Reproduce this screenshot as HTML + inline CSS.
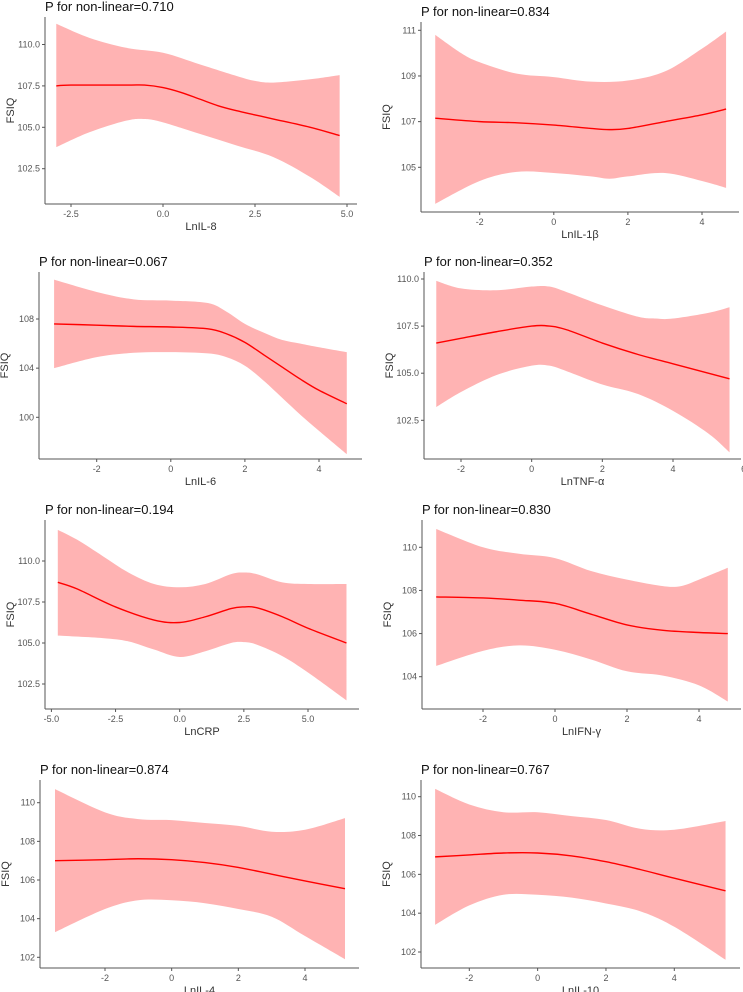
<!DOCTYPE html>
<html><head><meta charset="utf-8"><style>
html,body{margin:0;padding:0;background:#fff;}
svg{display:block;font-family:"Liberation Sans",sans-serif;}
</style></head><body>
<svg id="fig" width="743" height="992" viewBox="0 0 743 992" xmlns="http://www.w3.org/2000/svg"></svg>
<script>
// ---- data arrays ----
const titles = ["P for non-linear=0.710","P for non-linear=0.834","P for non-linear=0.067","P for non-linear=0.352","P for non-linear=0.194","P for non-linear=0.830","P for non-linear=0.874","P for non-linear=0.767"];
const xLabels = ["LnIL-8","LnIL-1β","LnIL-6","LnTNF-α","LnCRP","LnIFN-γ","LnIL-4","LnIL-10"];
const xTicks = [[-2.5,0,2.5,5],[-2,0,2,4],[-2,0,2,4],[-2,0,2,4,6],[-5,-2.5,0,2.5,5],[-2,0,2,4],[-2,0,2,4],[-2,0,2,4]];
const xTickLabels = [["-2.5","0.0","2.5","5.0"],["-2","0","2","4"],["-2","0","2","4"],["-2","0","2","4","6"],["-5.0","-2.5","0.0","2.5","5.0"],["-2","0","2","4"],["-2","0","2","4"],["-2","0","2","4"]];
const yTicks = [[102.5,105,107.5,110],[105,107,109,111],[100,104,108],[102.5,105,107.5,110],[102.5,105,107.5,110],[104,106,108,110],[102,104,106,108,110],[102,104,106,108,110]];
const yTickLabels = [["102.5","105.0","107.5","110.0"],["105","107","109","111"],["100","104","108"],["102.5","105.0","107.5","110.0"],["102.5","105.0","107.5","110.0"],["104","106","108","110"],["102","104","106","108","110"],["102","104","106","108","110"]];
const fitX = [
 [-2.9,-2.5,-1,-0.5,0,0.5,1,1.5,2,2.5,3,4,4.8],
 [-3.2,-2,-1,0,1,1.5,2,3,4,4.65],
 [-3.15,-2,-1,0,1,1.5,2,2.5,3,3.5,4,4.75],
 [-2.7,-2,-1,0,0.5,1,2,3,4,5,5.6],
 [-4.75,-4,-2.5,-1,0,1,2,2.5,3,4,5,6.5],
 [-3.3,-2,-1,0,1,2,3,4,4.8],
 [-3.5,-2,-1,0,1,2,3,4,5.2],
 [-3,-2,-1,0,1,2,3,4,5.5]];
const fitY = [
 [107.5,107.55,107.55,107.55,107.4,107.1,106.7,106.3,106.0,105.75,105.5,105.0,104.5],
 [107.15,107.0,106.95,106.85,106.7,106.65,106.7,107.0,107.3,107.55],
 [107.6,107.5,107.4,107.35,107.2,106.8,106.1,105.1,104.1,103.1,102.2,101.1],
 [106.6,106.85,107.2,107.5,107.5,107.3,106.6,106.0,105.5,105.0,104.7],
 [108.7,108.3,107.2,106.4,106.25,106.6,107.1,107.2,107.15,106.6,105.9,105.0],
 [107.7,107.65,107.55,107.4,106.9,106.4,106.15,106.05,106.0],
 [107.0,107.05,107.1,107.05,106.9,106.65,106.3,105.95,105.55],
 [106.9,107.0,107.1,107.1,106.95,106.65,106.25,105.8,105.15]];
const upX = [
 [-2.9,-2,-1,0,1,2,2.5,3,4,4.8],
 [-3.2,-2.5,-2,-1,0,1,2,3,4,4.65],
 [-3.15,-2,-1,0,1,1.5,2,2.5,3,3.5,4,4.75],
 [-2.7,-2,-1,0,0.5,1,2,3,3.5,4,5,5.6],
 [-4.75,-4,-3,-2,-1,0,1,2,2.5,3,4,5,6.5],
 [-3.3,-2,-1,0,1,2,3,3.5,4,4.8],
 [-3.5,-2,-1,0,1,2,3,4,5.2],
 [-3,-2,-1,0,1,2,3,4,5.5]];
const upY = [
 [111.25,110.4,109.8,109.5,108.8,108.1,107.8,107.7,107.9,108.15],
 [110.8,110.0,109.6,109.1,108.95,108.75,108.8,109.2,110.2,110.95],
 [111.2,110.2,109.6,109.5,109.3,108.6,107.6,106.9,106.3,106.0,105.7,105.3],
 [109.9,109.5,109.4,109.6,109.6,109.3,108.6,108.0,107.9,107.9,108.2,108.5],
 [111.9,111.3,110.3,109.3,108.6,108.4,108.6,109.2,109.3,109.2,108.7,108.6,108.6],
 [110.85,110.0,109.7,109.5,108.9,108.5,108.2,108.2,108.5,109.05],
 [110.7,109.5,109.15,109.1,108.95,108.8,108.5,108.6,109.2],
 [110.4,109.6,109.2,109.2,109.0,108.8,108.35,108.3,108.75]];
const loX = [
 [-2.9,-2,-1,-0.5,0,1,2,3,4,4.8],
 [-3.2,-2,-1,0,1,1.5,2,3,4,4.65],
 [-3.15,-2,-1,0,1,1.5,2,2.5,3,3.5,4,4.75],
 [-2.7,-2,-1,0,0.5,1,2,3,4,5,5.6],
 [-4.75,-3,-2,-1,0,1,2,2.5,3,4,5,6.5],
 [-3.3,-2,-1,0,1,2,3,4,4.8],
 [-3.5,-2,-1,0,1,2,3,4,5.2],
 [-3,-2,-1,0,1,2,3,4,5.5]];
const loY = [
 [103.8,104.7,105.4,105.5,105.3,104.6,103.9,103.2,102.0,100.8],
 [103.4,104.4,104.8,104.75,104.6,104.5,104.6,104.75,104.4,104.1],
 [104.0,104.9,105.25,105.3,105.2,104.9,104.2,103.0,101.6,100.2,98.9,97.0],
 [103.2,104.0,104.9,105.4,105.4,105.1,104.4,103.9,103.0,101.8,100.8],
 [105.45,105.3,105.1,104.6,104.15,104.5,105.0,105.05,104.9,104.2,103.2,101.5],
 [104.5,105.2,105.45,105.25,104.8,104.25,104.05,103.6,102.85],
 [103.3,104.5,104.95,104.95,104.8,104.5,104.1,103.1,101.9],
 [103.4,104.4,104.95,104.95,104.8,104.5,104.1,103.3,101.6]];

// ---- layout (pixel geometry, calibration: two reference values -> pixels) ----
const layout = [
 {l:45,t:17,b:204,r:357, xa:[-2.5,71,5,347], ya:[110,44.5,102.5,168.7]},
 {l:421,t:22,b:212,r:739, xa:[-2,479.7,4,702], ya:[111,30.3,105,167.3]},
 {l:39,t:272,b:459,r:362, xa:[-2,96.7,4,319], ya:[108,319,100,417.3]},
 {l:424,t:272,b:459,r:741, xa:[-2,461,4,673], ya:[110,279,102.5,420.3]},
 {l:45,t:520,b:709,r:359, xa:[-5,51.4,5,308], ya:[110,561,102.5,684]},
 {l:422,t:520,b:709,r:741, xa:[-2,483,4,699], ya:[110,547.3,104,676.7]},
 {l:40,t:780,b:968,r:359, xa:[-2,105,4,305], ya:[110,802.7,102,957.3]},
 {l:421,t:780,b:968,r:740, xa:[-2,469.3,4,674.3], ya:[110,796.7,102,952]}];

const NS="http://www.w3.org/2000/svg";
const svg=document.getElementById('fig');
function mk(tag,attrs,parent){const e=document.createElementNS(NS,tag);for(const k in attrs)e.setAttribute(k,attrs[k]);(parent||svg).appendChild(e);return e;}
function smooth(pts){ // catmull-rom to bezier
  let d="M"+pts[0][0].toFixed(2)+","+pts[0][1].toFixed(2);
  for(let i=0;i<pts.length-1;i++){
    const p0=pts[Math.max(0,i-1)],p1=pts[i],p2=pts[i+1],p3=pts[Math.min(pts.length-1,i+2)];
    const c1=[p1[0]+(p2[0]-p0[0])/6,p1[1]+(p2[1]-p0[1])/6];
    const c2=[p2[0]-(p3[0]-p1[0])/6,p2[1]-(p3[1]-p1[1])/6];
    d+=" C"+c1[0].toFixed(2)+","+c1[1].toFixed(2)+" "+c2[0].toFixed(2)+","+c2[1].toFixed(2)+" "+p2[0].toFixed(2)+","+p2[1].toFixed(2);
  }
  return d;
}
for(let p=0;p<8;p++){
  const L=layout[p];
  const sx=v=>L.xa[1]+(v-L.xa[0])*(L.xa[3]-L.xa[1])/(L.xa[2]-L.xa[0]);
  const sy=v=>L.ya[1]+(v-L.ya[0])*(L.ya[3]-L.ya[1])/(L.ya[2]-L.ya[0]);
  const g=mk('g',{});
  
  
  // band
  const up=upX[p].map((x,i)=>[sx(x),sy(upY[p][i])]);
  const lo=loX[p].map((x,i)=>[sx(x),sy(loY[p][i])]).reverse();
  let d=smooth(up)+" L"+lo[0][0].toFixed(2)+","+lo[0][1].toFixed(2)+smooth(lo).replace(/^M[^C]*/," ")+" Z";
  const band=mk('path',{d:d,fill:'#ffb3b3',stroke:'none'},g);
  
  
  const fit=fitX[p].map((x,i)=>[sx(x),sy(fitY[p][i])]);
  const line=mk('path',{d:smooth(fit),fill:'none',stroke:'#ff0000','stroke-width':1.4},g);
  
  
  // axes
  const ya=mk('line',{x1:L.l,y1:L.t,x2:L.l,y2:L.b,stroke:'#555','stroke-width':1},g);
  
  
  const xa=mk('line',{x1:L.l,y1:L.b,x2:L.r,y2:L.b,stroke:'#555','stroke-width':1},g);
  
  
  yTicks[p].forEach((v,i)=>{
    const y=sy(v);
    mk('line',{x1:L.l-3,y1:y,x2:L.l,y2:y,stroke:'#555'},g);
    const t=mk('text',{x:L.l-5,y:y+3,'text-anchor':'end','font-size':9,fill:'#555'},g);
    t.textContent=yTickLabels[p][i];
    
    
  });
  xTicks[p].forEach((v,i)=>{
    const x=sx(v);
    mk('line',{x1:x,y1:L.b,x2:x,y2:L.b+3,stroke:'#555'},g);
    const t=mk('text',{x:x,y:L.b+13,'text-anchor':'middle','font-size':9,fill:'#555'},g);
    t.textContent=xTickLabels[p][i];
    
    
  });
  const tt=mk('text',{x:L.l,y:L.t-6,'font-size':13,fill:'#111'},g);
  tt.textContent=titles[p];
  
  
  const xl=mk('text',{x:(L.l+L.r)/2,y:L.b+26,'text-anchor':'middle','font-size':11,fill:'#333'},g);
  xl.textContent=xLabels[p];
  
  
  const cy=(L.t+L.b)/2, cx=L.l-31;
  const yl=mk('text',{x:cx,y:cy,'text-anchor':'middle','font-size':11,fill:'#333',transform:'rotate(-90 '+cx+' '+cy+')'},g);
  yl.textContent='FSIQ';
  
  
}
</script>
</body></html>
